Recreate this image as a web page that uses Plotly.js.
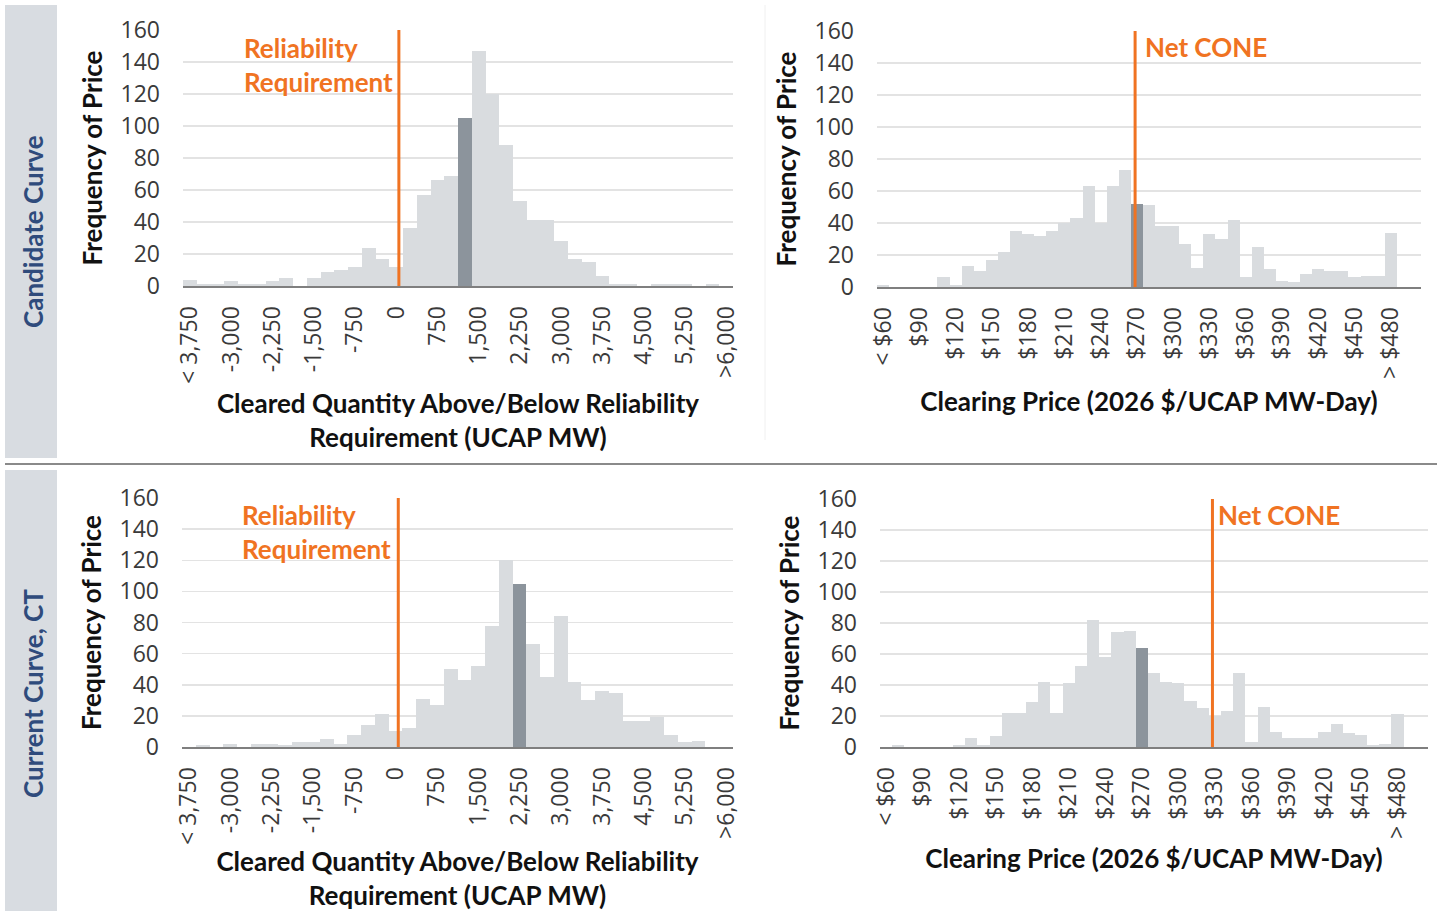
<!DOCTYPE html>
<html><head><meta charset="utf-8">
<script src="https://cdn.plot.ly/plotly-3.0.1.min.js"></script>
<style>html,body{margin:0;padding:0;background:#fff;overflow:hidden}#chart{width:1437px;height:911px}</style>
</head><body><div id="chart"></div>
<script>
// ---- categories ----
const qtyCategories = ["< 3,750","-3,500","-3,250","-3,000","-2,750","-2,500","-2,250","-2,000","-1,750","-1,500",
  "-1,250","-1,000","-750","-500","-250","0","250","500","750","1,000",
  "1,250","1,500","1,750","2,000","2,250","2,500","2,750","3,000","3,250","3,500",
  "3,750","4,000","4,250","4,500","4,750","5,000","5,250","5,500","5,750",">6,000"];
const qtyTickLabels = ["< 3,750","-3,000","-2,250","-1,500","-750","0","750","1,500","2,250","3,000","3,750","4,500","5,250",">6,000"];

const priceCategories = ["< $60","$70","$80","$90","$100","$110","$120","$130","$140","$150",
  "$160","$170","$180","$190","$200","$210","$220","$230","$240","$250",
  "$260","$270","$280","$290","$300","$310","$320","$330","$340","$350",
  "$360","$370","$380","$390","$400","$410","$420","$430","$440","$450",
  "$460","$470","> $480"];
const priceTickLabels = ["< $60","$90","$120","$150","$180","$210","$240","$270","$300","$330","$360","$390","$420","$450","> $480"];

// ---- series values (frequency) ----
const candidateQtyFreq = [4,1,1,3,1,1,3,5,0,5, 9,10,12,24,17,12,36,57,66,69, 105,147,120,88,53,41,41,28,17,15, 6,1,1,0,1,1,1,0,1,0];
const candidatePriceFreq = [1,0,0,0,0,6,1,13,10,17, 22,35,33,32,35,40,43,63,40,63, 73,52,51,38,38,27,12,33,30,42, 6,25,11,4,3,8,11,10,10,6, 7,7,34];
const currentQtyFreq = [0,1,0,2,0,2,2,1,3,3, 5,2,8,14,21,10,12,31,27,50, 43,52,78,120,105,66,45,84,42,30, 36,35,17,17,19,8,3,4,0,0];
const currentPriceFreq = [0,1,0,0,0,0,1,6,1,7, 22,22,29,42,22,41,52,82,58,74, 75,64,48,42,41,30,25,20,23,48, 3,26,10,6,6,6,10,15,9,8, 1,2,21];

const candidateQtyHighlight = "1,250";
const candidatePriceHighlight = "$270";
const currentQtyHighlight = "2,250";
const currentPriceHighlight = "$270";

const rowLabels = ["Candidate Curve", "Current Curve, CT"];
const qtyTitle = "Cleared Quantity Above/Below Reliability<br>Requirement (UCAP MW)";
const priceTitle = "Clearing Price (2026 $/UCAP MW-Day)";
const yTitle = "Frequency of Price";

// ---- styling ----
const W = 1437, H = 911;
const LIGHT = "#D9DCDF", DARK = "#8C949C", ORANGE = "#F07322";
const TICKFONT = {family: "Open Sans, sans-serif", size: 23, color: "#3a3a3a"};
const TITLEFONT = {family: "Lato, sans-serif", size: 26, color: "#111", weight: 700};

function colors(cats, hi) { return cats.map(c => c === hi ? DARK : LIGHT); }
function px(x) { return x / W; }
function py(y) { return 1 - y / H; }

function barTrace(cats, vals, hi, xa, ya) {
  return {type: "bar", x: cats, y: vals, xaxis: xa, yaxis: ya,
    marker: {color: colors(cats, hi), line: {width: 0}}, hoverinfo: "x+y"};
}

const data = [
  barTrace(qtyCategories, candidateQtyFreq, candidateQtyHighlight, "x", "y"),
  barTrace(priceCategories, candidatePriceFreq, candidatePriceHighlight, "x2", "y2"),
  barTrace(qtyCategories, currentQtyFreq, currentQtyHighlight, "x3", "y3"),
  barTrace(priceCategories, currentPriceFreq, currentPriceHighlight, "x4", "y4")
];

function xAxis(dom, cats, ticks, n, title, anchor, standoff) {
  return {domain: dom, anchor: anchor, type: "category", categoryorder: "array", categoryarray: cats,
    range: [-0.5, n - 0.5], tickmode: "array", tickvals: ticks, ticktext: ticks,
    tickangle: -90, tickfont: TICKFONT, ticks: "", ticklabelstandoff: 9,
    showline: true, linecolor: "#7f7f7f", linewidth: 2, showgrid: false, zeroline: false,
    automargin: false, fixedrange: true,
    title: {text: title, font: TITLEFONT, standoff: standoff}};
}
function yAxis(dom, anchor) {
  return {domain: dom, anchor: anchor, range: [0, 160], dtick: 20, tick0: 0,
    tickfont: TICKFONT, ticks: "", ticklabelstandoff: 22,
    showgrid: true, gridcolor: "#e3e3e3", gridwidth: 1.5, zeroline: false, showline: false,
    automargin: false, fixedrange: true,
    title: {text: yTitle, font: TITLEFONT, standoff: 10}};
}

const labelFont = {family: "Lato, sans-serif", size: 26, color: ORANGE, weight: 700};
const rowFont = {family: "Lato, sans-serif", size: 26, color: "#2f4b7c", weight: 700};

const layout = {
  width: W, height: H, margin: {l: 0, r: 0, t: 0, b: 0},
  paper_bgcolor: "#fff", plot_bgcolor: "rgba(0,0,0,0)",
  showlegend: false, bargap: 0,
  xaxis:  xAxis([px(183), px(733)], qtyCategories, qtyTickLabels, 40, qtyTitle, "y", 12),
  yaxis:  yAxis([py(286), py(30)], "x"),
  xaxis2: xAxis([px(877), px(1421)], priceCategories, priceTickLabels, 45, priceTitle, "y2", 15),
  yaxis2: yAxis([py(287), py(31)], "x2"),
  xaxis3: xAxis([px(182), px(733)], qtyCategories, qtyTickLabels, 40, qtyTitle, "y3", 10),
  yaxis3: yAxis([py(747), py(498)], "x3"),
  xaxis4: xAxis([px(880), px(1428)], priceCategories, priceTickLabels, 45, priceTitle, "y4", 12),
  yaxis4: yAxis([py(747), py(499)], "x4"),
  shapes: [
    {type: "rect", xref: "paper", yref: "paper", x0: px(5), x1: px(57), y0: py(458), y1: py(5),
      fillcolor: "#D8DCE1", line: {width: 0}, layer: "below"},
    {type: "rect", xref: "paper", yref: "paper", x0: px(5), x1: px(57), y0: py(911), y1: py(470),
      fillcolor: "#D8DCE1", line: {width: 0}, layer: "below"},
    {type: "line", xref: "paper", yref: "paper", x0: px(5), x1: 1, y0: py(464), y1: py(464),
      line: {color: "#8a8a8a", width: 2}},
    {type: "line", xref: "paper", yref: "paper", x0: px(765), x1: px(765), y0: py(440), y1: py(5),
      line: {color: "#f0f0f0", width: 1}, layer: "below"},
    {type: "line", xref: "x", yref: "y", x0: 15.2, x1: 15.2, y0: 0, y1: 160, line: {color: ORANGE, width: 3}},
    {type: "line", xref: "x2", yref: "y2", x0: 20.85, x1: 20.85, y0: 0, y1: 160, line: {color: ORANGE, width: 3}},
    {type: "line", xref: "x3", yref: "y3", x0: 15.2, x1: 15.2, y0: 0, y1: 160, line: {color: ORANGE, width: 3}},
    {type: "line", xref: "x4", yref: "y4", x0: 26.8, x1: 26.8, y0: 0, y1: 160, line: {color: ORANGE, width: 3}}
  ],
  annotations: [
    {xref: "paper", yref: "paper", x: px(33), y: py(232), xanchor: "center", yanchor: "middle",
      text: rowLabels[0], textangle: -90, showarrow: false, font: rowFont},
    {xref: "paper", yref: "paper", x: px(33), y: py(694), xanchor: "center", yanchor: "middle",
      text: rowLabels[1], textangle: -90, showarrow: false, font: rowFont},
    {xref: "paper", yref: "paper", x: px(242), y: py(30), xanchor: "left", yanchor: "top", align: "left",
      text: "Reliability<br>Requirement", showarrow: false, font: labelFont},
    {xref: "paper", yref: "paper", x: px(240), y: py(497), xanchor: "left", yanchor: "top", align: "left",
      text: "Reliability<br>Requirement", showarrow: false, font: labelFont},
    {xref: "paper", yref: "paper", x: px(1143), y: py(47), xanchor: "left", yanchor: "middle",
      text: "Net CONE", showarrow: false, font: labelFont},
    {xref: "paper", yref: "paper", x: px(1216), y: py(515), xanchor: "left", yanchor: "middle",
      text: "Net CONE", showarrow: false, font: labelFont}
  ]
};

Plotly.newPlot("chart", data, layout, {displayModeBar: false, staticPlot: true});
</script></body></html>
